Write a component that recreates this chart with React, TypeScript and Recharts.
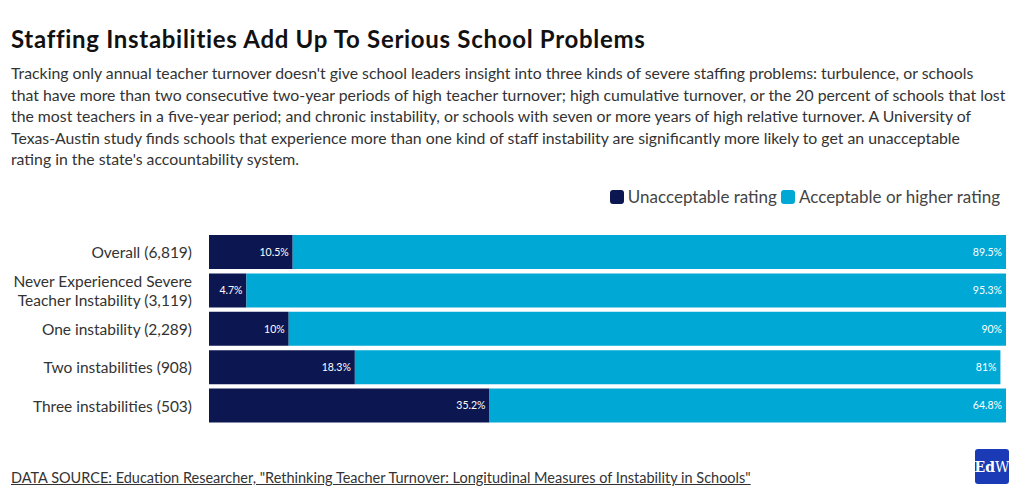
import React from "react";
import { BarChart, Bar, XAxis, YAxis, LabelList } from "recharts";

const categories = [
  "Overall (6,819)",
  "Never Experienced Severe|Teacher Instability (3,119)",
  "One instability (2,289)",
  "Two instabilities (908)",
  "Three instabilities (503)",
];
const unacceptable = [10.5, 4.7, 10, 18.3, 35.2];
const acceptable = [89.5, 95.3, 90, 81, 64.8];

const descriptionLines = [
  "Tracking only annual teacher turnover doesn't give school leaders insight into three kinds of severe staffing problems: turbulence, or schools",
  "that have more than two consecutive two-year periods of high teacher turnover; high cumulative turnover, or the 20 percent of schools that lost",
  "the most teachers in a five-year period; and chronic instability, or schools with seven or more years of high relative turnover. A University of",
  "Texas-Austin study finds schools that experience more than one kind of staff instability are significantly more likely to get an unacceptable",
  "rating in the state's accountability system.",
];

const DARK = "#0c1752";
const LIGHT = "#00a8d6";
const FONT = "Lato, 'Noto Sans', sans-serif";

const data = categories.map((name, i) => ({
  name,
  unacceptable: unacceptable[i],
  acceptable: acceptable[i],
}));

const fmt = (v: any) => `${v}%`;

const CategoryTick = ({ x, y, payload }: any) => {
  const lines = String(payload.value).split("|");
  const lh = 19;
  const start = -((lines.length - 1) * lh) / 2;
  return (
    <text x={x} y={y} textAnchor="end" fill="#333" fontSize={15.5} fontFamily={FONT}>
      {lines.map((l, i) => (
        <tspan key={i} x={x} dy={i === 0 ? start + 6 : lh}>
          {l}
        </tspan>
      ))}
    </text>
  );
};

export default function App() {
  return (
    <div
      style={{
        position: "fixed",
        left: 0,
        top: 0,
        width: 1020,
        height: 499,
        background: "#fff",
        fontFamily: FONT,
        overflow: "hidden",
      }}
    >
      <div
        style={{
          position: "absolute",
          left: 11,
          top: 24,
          fontSize: 24,
          fontWeight: 700,
          color: "#111",
          letterSpacing: 0.7,
          whiteSpace: "nowrap",
        }}
      >
        Staffing Instabilities Add Up To Serious School Problems
      </div>
      <div
        style={{
          position: "absolute",
          left: 11,
          top: 62,
          fontSize: 15.8,
          lineHeight: "21.6px",
          color: "#333",
          whiteSpace: "nowrap",
        }}
      >
        {descriptionLines.map((l, i) => (
          <div key={i}>{l}</div>
        ))}
      </div>
      <div
        style={{
          position: "absolute",
          right: 20,
          top: 186,
          display: "flex",
          alignItems: "center",
          fontSize: 17,
          color: "#444",
        }}
      >
        <span style={{ width: 14, height: 14, borderRadius: 3, background: DARK, marginRight: 4 }} />
        <span>Unacceptable rating</span>
        <span style={{ width: 14, height: 14, borderRadius: 3, background: LIGHT, marginLeft: 4, marginRight: 4 }} />
        <span>Acceptable or higher rating</span>
      </div>
      <div style={{ position: "absolute", left: 0, top: 0 }}>
        <BarChart
          width={1020}
          height={499}
          data={data}
          layout="vertical"
          margin={{ top: 233, right: 14, bottom: 74, left: 0 }}
          barCategoryGap={4}
        >
          <XAxis type="number" domain={[0, 100]} hide />
          <YAxis
            type="category"
            dataKey="name"
            width={209}
            axisLine={false}
            tickLine={false}
            tickSize={0}
            tickMargin={17}
            interval={0}
            tick={<CategoryTick />}
          />
          <Bar dataKey="unacceptable" stackId="a" fill={DARK} barSize={34} isAnimationActive={false}>
            <LabelList dataKey="unacceptable" position="insideRight" offset={4} fill="#fff" fontSize={10.5} formatter={fmt} />
          </Bar>
          <Bar dataKey="acceptable" stackId="a" fill={LIGHT} barSize={34} isAnimationActive={false}>
            <LabelList dataKey="acceptable" position="insideRight" offset={4} fill="#fff" fontSize={10.5} formatter={fmt} />
          </Bar>
        </BarChart>
      </div>
      <div
        style={{
          position: "absolute",
          left: 11,
          top: 469,
          fontSize: 14.5,
          color: "#333",
          textDecoration: "underline",
          whiteSpace: "nowrap",
        }}
      >
        DATA SOURCE: Education Researcher, "Rethinking Teacher Turnover: Longitudinal Measures of Instability in Schools"
      </div>
      <div
        style={{
          position: "absolute",
          left: 975,
          top: 449,
          width: 34,
          height: 35,
          borderRadius: 3,
          background: "#1a3bb5",
          color: "#fff",
          fontFamily: "'DejaVu Serif', 'Liberation Serif', serif",
          fontSize: 14,
          display: "flex",
          alignItems: "center",
          justifyContent: "center",
        }}
      >
        <b>Ed</b>W
      </div>
    </div>
  );
}
